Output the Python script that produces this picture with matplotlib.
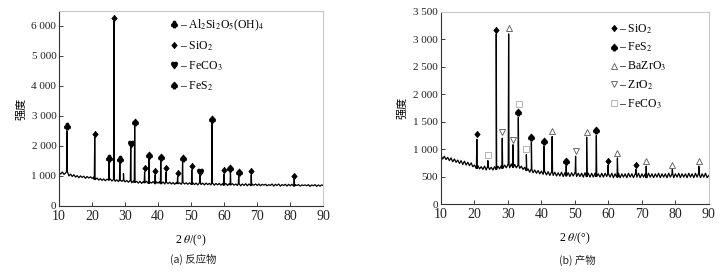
import numpy as np
import matplotlib
matplotlib.use('Agg')
import matplotlib.pyplot as plt
from matplotlib.lines import Line2D
from matplotlib.ticker import FuncFormatter, MultipleLocator

matplotlib.rcParams['mathtext.fontset'] = 'stix'
matplotlib.rcParams['font.family'] = ['Liberation Serif', 'DejaVu Serif']

# 2theta grid of the background, 0.5 deg steps
two_theta = np.arange(10, 90.01, 0.5)

# (a) reactant: background
base_a = [1120, 1060, 1130, 1050, 1100, 1140, 1000, 1060, 980, 1040, 960, 1010, 940, 1000, 950, 990, 920, 980, 930, 970,
          920, 960, 880, 930, 860, 910, 850, 900, 840, 890, 860, 900, 830, 880, 820, 870, 810, 860, 820, 850,
          800, 850, 790, 840, 770, 830, 780, 820, 760, 820, 750, 810, 770, 820, 750, 800, 760, 810, 740, 800,
          760, 810, 740, 800, 730, 790, 740, 790, 730, 780, 720, 780, 740, 770, 720, 780, 730, 770, 720, 770,
          720, 770, 710, 760, 700, 770, 710, 760, 700, 760, 710, 750, 700, 760, 690, 750, 700, 750, 690, 740,
          690, 750, 680, 740, 700, 740, 690, 730, 680, 740, 670, 730, 680, 740, 670, 730, 680, 720, 690, 730,
          680, 730, 670, 720, 690, 720, 670, 710, 680, 730, 660, 720, 680, 730, 660, 710, 680, 720, 660, 720,
          670, 720, 660, 710, 680, 710, 660, 700, 680, 700, 670, 710, 650, 700, 670, 710, 650, 700, 660, 700,
          680]
peak_pos_a = [12.4, 20.8, 25.1, 26.6, 28.4, 29.5, 31.7, 32.9, 35.9, 37.2, 39.1, 40.8, 42.4, 45.9, 47.4,
              50.2, 52.7, 56.3, 59.9, 61.9, 64.4, 68.2, 81.2]
peak_top_a = [2500, 2280, 1480, 6150, 1430, 1080, 1940, 2680, 1130, 1570, 1040, 1490, 1130, 970, 1460,
              1200, 1020, 2750, 1060, 1140, 1020, 1040, 900]

# (b) product
base_b = [880, 820, 870, 810, 850, 790, 840, 770, 820, 760, 800, 740, 790, 720, 780, 710, 760, 700, 750, 680,
          710, 650, 700, 640, 680, 630, 690, 620, 680, 630, 670, 620, 680, 630, 690, 640, 700, 650, 710, 660,
          720, 660, 730, 670, 720, 660, 710, 650, 690, 630, 670, 610, 640, 580, 630, 570, 620, 560, 610, 550,
          600, 540, 590, 530, 590, 520, 580, 520, 580, 510, 570, 510, 580, 500, 570, 510, 570, 500, 570, 510,
          570, 500, 560, 500, 560, 490, 570, 500, 560, 490, 560, 490, 560, 500, 550, 490, 560, 490, 560, 500,
          550, 490, 560, 480, 550, 490, 560, 480, 550, 490, 550, 480, 560, 490, 550, 480, 550, 490, 560, 480,
          550, 490, 550, 480, 560, 490, 550, 480, 550, 490, 560, 480, 550, 490, 550, 480, 560, 490, 550, 480,
          550, 490, 560, 480, 550, 490, 550, 480, 560, 490, 550, 480, 560, 490, 550, 480, 550, 490, 560, 480,
          520]
peak_pos_b = [20.7, 24.0, 26.5, 28.3, 30.2, 31.5, 33.1, 35.5, 37.0, 40.8, 43.2, 47.4, 50.2, 53.5, 56.4,
              59.9, 62.7, 68.2, 71.3, 79.1, 87.0]
peak_top_b = [1180, 790, 3100, 1200, 3100, 1080, 1580, 900, 1130, 1060, 1230, 700, 870, 1220, 1250,
              710, 840, 630, 690, 630, 690]

# phase labels: (2theta, intensity of the symbol)
kaol_a = ([12.4, 25.1, 28.4], [2650, 1610, 1570])
sio2_a = ([20.8, 26.6, 35.9, 39.1, 42.4, 45.9, 50.2, 59.9, 68.2, 81.2],
          [2410, 6250, 1260, 1160, 1260, 1090, 1320, 1190, 1160, 1010])
feco3_a = ([31.7, 52.7], [2070, 1140])
fes2_a = ([32.9, 37.2, 40.8, 47.4, 56.3, 61.9, 64.4], [2810, 1700, 1620, 1590, 2880, 1270, 1140])

sio2_b = ([20.7, 26.5, 59.9, 68.2], [1270, 3180, 790, 715])
fes2_b = ([33.1, 37.0, 40.8, 47.4, 56.4], [1670, 1225, 1150, 780, 1345])
bazro3_b = ([30.2, 43.2, 53.5, 62.7, 71.3, 79.1, 87.0], [3200, 1335, 1315, 930, 775, 715, 775])
zro2_b = ([28.3, 31.5, 50.2], [1310, 1175, 965])
feco3_b = ([24.0, 33.2, 35.5], [890, 1825, 995])

CJK = ['Noto Sans CJK SC', 'DejaVu Sans']
SYM = {'club': '$\u2663$', 'dia': '$\u2666$', 'heart': '$\u2665$', 'spade': '$\u2660$'}


def trace(base, pos, top):
    xs = list(two_theta)
    ys = list(base)
    for p, t in zip(pos, top):
        b = base[int(round((p - 10) / 0.5))]
        xs += [p - 0.12, p, p + 0.12]
        ys += [b, t, b]
    order = np.argsort(xs, kind='stable')
    return np.array(xs)[order], np.array(ys)[order]


def fmt_ax(ax, ymax, ystep):
    ax.set_xlim(10, 90)
    ax.set_ylim(0, ymax)
    ax.xaxis.set_major_locator(MultipleLocator(10))
    ax.yaxis.set_major_locator(MultipleLocator(ystep))
    ax.yaxis.set_major_formatter(FuncFormatter(lambda v, p: f'{int(v):,}'.replace(',', ' ')))
    ax.tick_params(axis='both', direction='in', length=3, width=0.6, colors='#222222')
    ax.tick_params(axis='x', labelsize=10, pad=3)
    ax.tick_params(axis='y', labelsize=8, pad=2)
    for s in ['left', 'bottom']:
        ax.spines[s].set_color('#333333')
        ax.spines[s].set_linewidth(0.8)
    for s in ['top', 'right']:
        ax.spines[s].set_color('#c8c8c8')
        ax.spines[s].set_linewidth(0.8)
    ax.set_xlabel(r'2 $\theta$/(°)', fontsize=8.5, labelpad=7)
    ax.set_ylabel('强度', family=CJK, fontsize=8, labelpad=4)


def marks(ax, data, marker, ms, color='k', mfc=None, mew=0.6):
    ax.plot(data[0], data[1], ls='none', marker=marker, ms=ms, color=color,
            mfc=mfc if mfc else color, mew=mew)
    return Line2D([], [], ls='none', marker=marker, ms=ms, color=color,
                  mfc=mfc if mfc else color, mew=mew)


fig = plt.figure(figsize=(7.2, 2.72), dpi=100)
ax1 = fig.add_axes([0.082, 0.243, 0.367, 0.717])
ax2 = fig.add_axes([0.6125, 0.25, 0.372, 0.706])

x, y = trace(base_a, peak_pos_a, peak_top_a)
ax1.plot(x, y, color='k', lw=0.9)
fmt_ax(ax1, 6500, 1000)
h = [marks(ax1, kaol_a, SYM['club'], 5),
     marks(ax1, sio2_a, SYM['dia'], 4.5),
     marks(ax1, feco3_a, SYM['heart'], 5),
     marks(ax1, fes2_a, SYM['spade'], 5)]
labs = ['– Al$_2$Si$_2$O$_5$(OH)$_4$', '– SiO$_2$', '– FeCO$_3$', '– FeS$_2$']
ax1.legend(h, labs, loc='upper left', bbox_to_anchor=(0.39, 1.01), frameon=False, fontsize=8.5,
           handlelength=0.6, handletextpad=0.2, labelspacing=0.55, borderaxespad=0.3)

x, y = trace(base_b, peak_pos_b, peak_top_b)
ax2.plot(x, y, color='k', lw=0.9)
fmt_ax(ax2, 3500, 500)
h = [marks(ax2, sio2_b, SYM['dia'], 4.5),
     marks(ax2, fes2_b, SYM['spade'], 5),
     marks(ax2, bazro3_b, '^', 4.5, color='#555555', mfc='white'),
     marks(ax2, zro2_b, 'v', 4.5, color='#555555', mfc='white'),
     marks(ax2, feco3_b, 's', 4.5, color='#aaaaaa', mfc='white')]
labs = ['– SiO$_2$', '– FeS$_2$', '– BaZrO$_3$', '– ZrO$_2$', '– FeCO$_3$']
ax2.legend(h, labs, loc='upper left', bbox_to_anchor=(0.6, 0.99), frameon=False, fontsize=8.5,
           handlelength=0.6, handletextpad=0.2, labelspacing=0.45, borderaxespad=0.3)

fig.text(0.268, 0.035, '(a) 反应物', family=CJK, fontsize=7.5, ha='center', color='#222222')
fig.text(0.802, 0.03, '(b) 产物', family=CJK, fontsize=7.5, ha='center', color='#222222')

fig.savefig('out.png', dpi=100)
